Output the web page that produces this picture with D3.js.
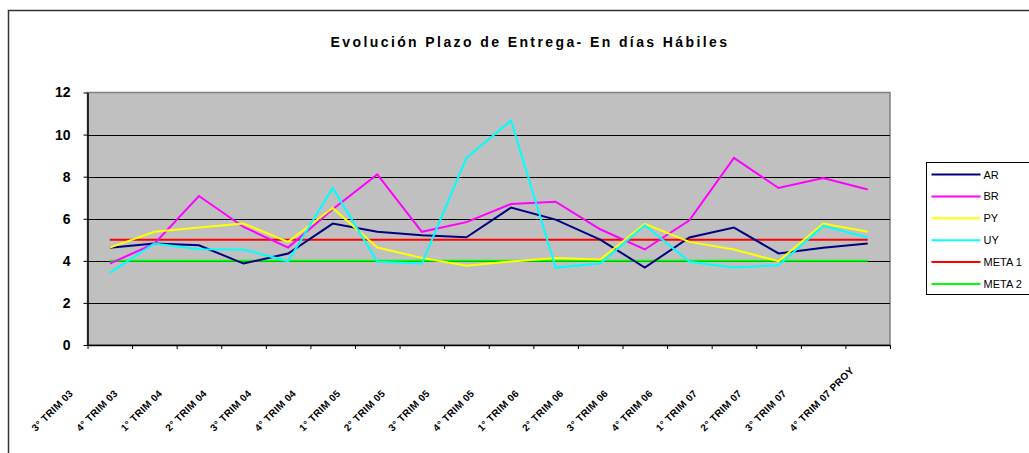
<!DOCTYPE html>
<html>
<head>
<meta charset="utf-8">
<script src="https://cdn.jsdelivr.net/npm/d3@7"></script>
<style>
  body { margin: 0; background: #fff; }
  svg { display: block; font-family: Arial, "Liberation Sans", sans-serif; }
</style>
</head>
<body>
<div id="chart"></div>
<script>
// Data
var categories = ["3° TRIM 03", "4° TRIM 03", "1° TRIM 04", "2° TRIM 04", "3° TRIM 04", "4° TRIM 04",
    "1° TRIM 05", "2° TRIM 05", "3° TRIM 05", "4° TRIM 05", "1° TRIM 06", "2° TRIM 06",
    "3° TRIM 06", "4° TRIM 06", "1° TRIM 07", "2° TRIM 07", "3° TRIM 07", "4° TRIM 07 PROY"];

var AR = [4.62, 4.82, 4.74, 3.87, 4.35, 5.77, 5.38, 5.22, 5.12, 6.53, 5.96, 5.01, 3.68, 5.11, 5.58, 4.35, 4.62, 4.82];
var BR = [3.87, 4.82, 7.08, 5.61, 4.63, 6.45, 8.11, 5.38, 5.84, 6.70, 6.81, 5.50, 4.54, 5.93, 8.89, 7.46, 7.94, 7.39];
var PY = [4.63, 5.38, 5.58, 5.77, 4.90, 6.51, 4.63, 4.14, 3.77, 3.97, 4.14, 4.06, 5.76, 4.90, 4.54, 3.98, 5.77, 5.38];
var UY = [3.43, 4.82, 4.55, 4.54, 3.98, 7.46, 3.96, 3.87, 8.89, 10.67, 3.68, 3.87, 5.69, 3.96, 3.68, 3.79, 5.66, 5.11];
var META1 = [5, 5, 5, 5, 5, 5, 5, 5, 5, 5, 5, 5, 5, 5, 5, 5, 5, 5];
var META2 = [4, 4, 4, 4, 4, 4, 4, 4, 4, 4, 4, 4, 4, 4, 4, 4, 4, 4];

var yTicks = [0, 2, 4, 6, 8, 10, 12];

var series = [
    { name: "AR", values: AR, color: "#000080" },
    { name: "BR", values: BR, color: "#ff00ff" },
    { name: "PY", values: PY, color: "#ffff00" },
    { name: "UY", values: UY, color: "#00ffff" },
    { name: "META 1", values: META1, color: "#ff0000" },
    { name: "META 2", values: META2, color: "#00ff00" }
];

// Canvas
var W = 1029, H = 453;
var plot = { left: 87.5, right: 890, top: 92.5, bottom: 345 };

var svg = d3.select("#chart").append("svg")
    .attr("width", W)
    .attr("height", H);

// outer chart border (runs off the right/bottom edge)
svg.append("rect")
    .attr("x", 8.5).attr("y", 10.5)
    .attr("width", 1200).attr("height", 600)
    .attr("fill", "#fff")
    .attr("stroke", "#333")
    .attr("stroke-width", 1.5);

var x = d3.scaleBand()
    .domain(categories)
    .range([plot.left, plot.right])
    .padding(0);

var xEdge = d3.scaleLinear()
    .domain([0, categories.length])
    .range([plot.left, plot.right]);

var y = d3.scaleLinear()
    .domain([0, 12])
    .range([plot.bottom, plot.top]);

// plot area
svg.append("rect")
    .attr("x", plot.left).attr("y", plot.top)
    .attr("width", plot.right - plot.left)
    .attr("height", plot.bottom - plot.top)
    .attr("fill", "#c0c0c0")
    .attr("stroke", "#808080")
    .attr("stroke-width", 1.5);

// gridlines
svg.append("g")
    .selectAll("line")
    .data(yTicks.slice(1, -1))
    .join("line")
    .attr("x1", plot.left).attr("x2", plot.right)
    .attr("y1", function(d) { return Math.round(y(d)) + 0.5; })
    .attr("y2", function(d) { return Math.round(y(d)) + 0.5; })
    .attr("stroke", "#000")
    .attr("stroke-width", 1);

// axes
var yAxis = svg.append("g")
    .attr("transform", "translate(" + plot.left + ",0)")
    .call(d3.axisLeft(y).tickValues(yTicks).tickSize(4).tickPadding(13).tickSizeOuter(0));
yAxis.select(".domain").attr("stroke", "#000").attr("stroke-width", 1.5);
yAxis.selectAll("text")
    .attr("font-size", 14)
    .attr("font-weight", "bold")
    .attr("font-family", "Arial, 'Liberation Sans', sans-serif")
    .attr("fill", "#000");

var xAxis = svg.append("g")
    .attr("transform", "translate(0," + plot.bottom + ")")
    .call(d3.axisBottom(xEdge).tickValues(d3.range(categories.length + 1)).tickFormat("").tickSize(4).tickSizeOuter(0));
xAxis.select(".domain").attr("stroke", "#000").attr("stroke-width", 1.5);

// rotated category labels
svg.append("g")
    .selectAll("text")
    .data(categories)
    .join("text")
    .attr("transform", function(d) {
        return "translate(" + (x(d) + x.bandwidth() / 2 - 74) + ",432) rotate(-45)";
    })
    .attr("font-size", 10)
    .attr("font-weight", "bold")
    .attr("letter-spacing", 0.3)
    .attr("fill", "#000")
    .text(function(d) { return d; });

// lines
var line = d3.line()
    .x(function(d, i) { return x(categories[i]) + x.bandwidth() / 2; })
    .y(function(d) { return y(d); });

var drawOrder = [series[4], series[5], series[0], series[1], series[2], series[3]];
svg.append("g")
    .selectAll("path")
    .data(drawOrder)
    .join("path")
    .attr("d", function(s) { return line(s.values); })
    .attr("fill", "none")
    .attr("stroke", function(s) { return s.color; })
    .attr("stroke-width", 2)
    .attr("stroke-linejoin", "miter");

// title
svg.append("text")
    .attr("x", 530)
    .attr("y", 47)
    .attr("text-anchor", "middle")
    .attr("font-size", 14)
    .attr("font-weight", "bold")
    .attr("letter-spacing", 2.4)
    .text("Evolución Plazo de Entrega- En días Hábiles");

// legend
var legend = svg.append("g").attr("transform", "translate(926.5,162.5)");
legend.append("rect")
    .attr("width", 200).attr("height", 132)
    .attr("fill", "#fff")
    .attr("stroke", "#000")
    .attr("stroke-width", 1);

var item = legend.selectAll("g")
    .data(series)
    .join("g")
    .attr("transform", function(d, i) { return "translate(0," + (12 + i * 21.9) + ")"; });
item.append("line")
    .attr("x1", 5).attr("x2", 54)
    .attr("stroke", function(d) { return d.color; })
    .attr("stroke-width", 2);
item.append("text")
    .attr("x", 57)
    .attr("y", 4)
    .attr("font-size", 11)
    .attr("fill", "#000")
    .text(function(d) { return d.name; });
</script>
</body>
</html>
